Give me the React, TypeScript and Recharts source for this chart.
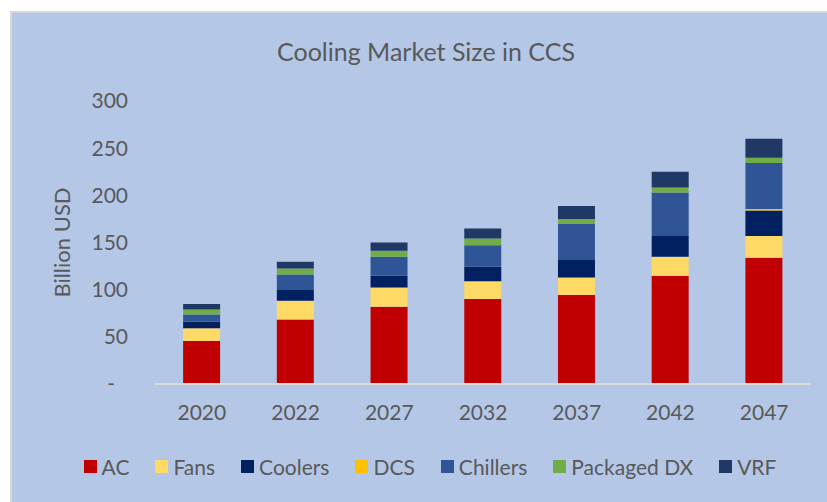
import { BarChart, Bar, XAxis, YAxis, Legend } from 'recharts';

const years = ['2020', '2022', '2027', '2032', '2037', '2042', '2047'];
const ac = [45.5, 68.5, 82, 90, 94.3, 114.7, 133.8];
const fans = [13.5, 19.7, 20.4, 19, 18.7, 20.1, 23];
const coolers = [7, 11.4, 12.3, 15.3, 18.4, 22.2, 27];
const dcs = [0, 0, 0, 0, 0, 0, 1.8];
const chillers = [7.8, 16.5, 20.1, 22.9, 38.1, 46, 48.6];
const packagedDx = [5.3, 6.4, 6.4, 7.1, 5.3, 5.3, 5.6];
const vrf = [5.6, 7.1, 8.8, 10.6, 13.8, 16.6, 20.2];
const yTicks = [0, 50, 100, 150, 200, 250, 300];

const series = [
  { key: 'ac', name: 'AC', color: '#c00000', values: ac },
  { key: 'fans', name: 'Fans', color: '#ffd966', values: fans },
  { key: 'coolers', name: 'Coolers', color: '#002060', values: coolers },
  { key: 'dcs', name: 'DCS', color: '#ffc000', values: dcs },
  { key: 'chillers', name: 'Chillers', color: '#2f5597', values: chillers },
  { key: 'packagedDx', name: 'Packaged DX', color: '#70ad47', values: packagedDx },
  { key: 'vrf', name: 'VRF', color: '#203864', values: vrf },
];

const data = years.map((year, i) => {
  const row: Record<string, any> = { year };
  series.forEach((s) => {
    row[s.key] = s.values[i];
  });
  return row;
});

const FONT = 'Lato, "Open Sans", sans-serif';
const TEXT = '#595959';

// Excel accounting style: zero shows as a dash, slightly left of the numbers
const YTick = ({ x, y, payload }: any) => (
  <text
    x={payload.value === 0 ? x - 13 : x}
    y={y}
    dy="0.355em"
    textAnchor="end"
    fill={TEXT}
    fontSize={21}
    fontFamily={FONT}
  >
    {payload.value === 0 ? '-' : payload.value}
  </text>
);

const LegendContent = () => (
  <div
    style={{
      display: 'flex',
      justifyContent: 'center',
      alignItems: 'center',
      gap: 26,
      height: 30,
      fontFamily: FONT,
      fontSize: 21,
      color: TEXT,
    }}
  >
    {series.map((s) => (
      <div key={s.key} style={{ display: 'flex', alignItems: 'center' }}>
        <span style={{ width: 13, height: 13, background: s.color, marginRight: 5 }} />
        <span>{s.name}</span>
      </div>
    ))}
  </div>
);

export default function App() {
  return (
    <div style={{ position: 'relative', width: 827, height: 502, background: '#ffffff', overflow: 'hidden' }}>
      <style>{'body{margin:0}'}</style>
      <div
        style={{
          position: 'absolute',
          left: 10,
          top: 11,
          width: 817,
          height: 491,
          background: '#b4c7e7',
          borderLeft: '2px solid #d9d9d9',
          borderTop: '2px solid #d9d9d9',
          boxSizing: 'border-box',
        }}
      />
      <div
        style={{
          position: 'absolute',
          left: 25,
          top: 36,
          width: 802,
          textAlign: 'center',
          fontFamily: FONT,
          fontSize: 25,
          color: TEXT,
        }}
      >
        Cooling Market Size in CCS
      </div>
      <div style={{ position: 'absolute', left: 0, top: 0 }}>
        <BarChart
          width={827}
          height={502}
          data={data}
          margin={{ top: 101, right: 16, left: 80, bottom: 28 }}
          barCategoryGap="30%"
        >
          <XAxis
            dataKey="year"
            axisLine={{ stroke: '#d9d9d9', strokeWidth: 2 }}
            tickLine={false}
            tickSize={0}
            tickMargin={21}
            height={60}
            tick={{ fill: TEXT, fontSize: 21, fontFamily: FONT }}
          />
          <YAxis
            domain={[0, 300]}
            ticks={yTicks}
            width={75}
            axisLine={false}
            tickLine={false}
            tickSize={0}
            tickMargin={27}
            tick={<YTick />}
            label={{
              value: 'Billion USD',
              angle: -90,
              position: 'center',
              dx: -55,
              fill: TEXT,
              fontSize: 22,
              fontFamily: FONT,
            }}
          />
          <Legend
            content={<LegendContent />}
            wrapperStyle={{ top: 451, left: 33, width: 794 }}
            height={30}
          />
          {series.map((s) => (
            <Bar
              key={s.key}
              dataKey={s.key}
              name={s.name}
              stackId="a"
              fill={s.color}
              isAnimationActive={false}
            />
          ))}
        </BarChart>
      </div>
    </div>
  );
}
